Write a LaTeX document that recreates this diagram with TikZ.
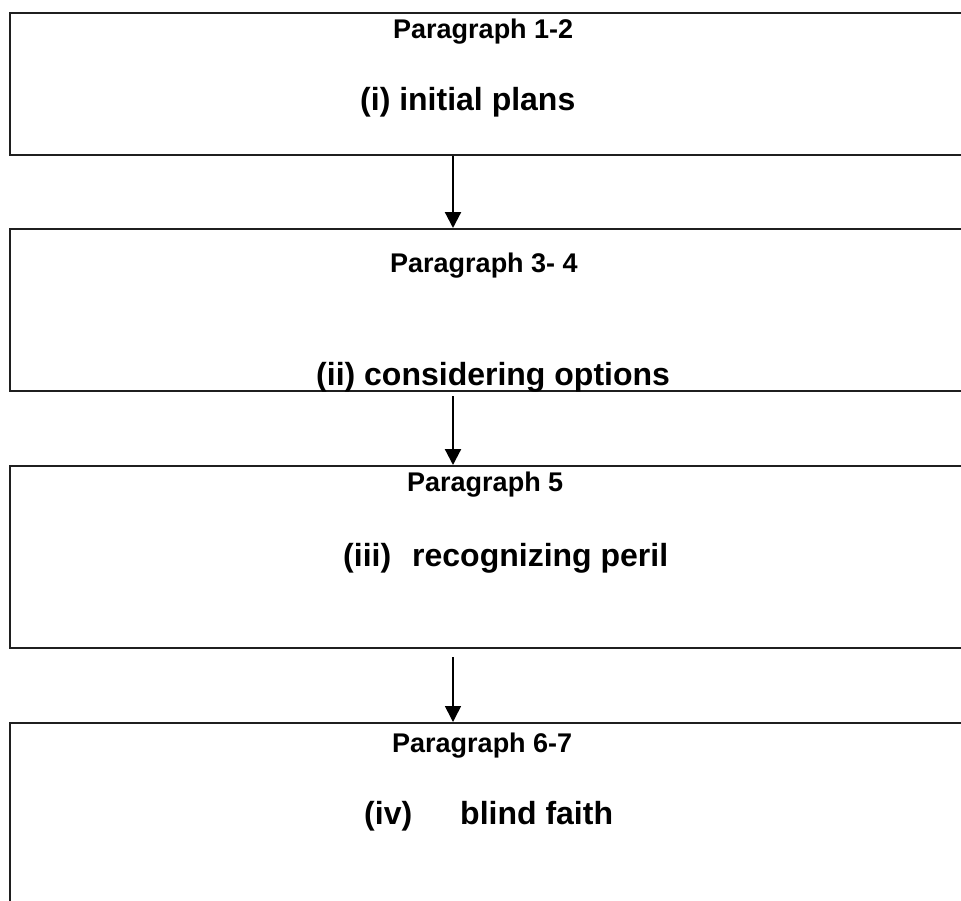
\documentclass[tikz,border=0pt]{standalone}
\usepackage{fontspec}
\setmainfont{Liberation Sans}
\usetikzlibrary{arrows.meta}
\begin{document}
\begin{tikzpicture}[x=1pt,y=-1pt,
  box/.style={draw=black!88,line width=2pt,rectangle,inner sep=0pt},
  head/.style={anchor=base west,inner sep=0pt,font=\fontsize{27}{32}\selectfont\bfseries},
  lab/.style={anchor=base west,inner sep=0pt,font=\fontsize{32}{38}\selectfont\bfseries},
  arr/.style={line width=2.2pt,-{Triangle[length=16pt,width=16pt]}}]
\useasboundingbox (0,0) rectangle (961,900);
\clip (0,0) rectangle (961,900);
\fill[white] (0,0) rectangle (961,900);
% boxes
\node[box,minimum width=980pt,minimum height=142pt,anchor=north west] (b1) at (9,12) {};
\node[box,minimum width=980pt,minimum height=162pt,anchor=north west] (b2) at (9,228) {};
\node[box,minimum width=980pt,minimum height=182pt,anchor=north west] (b3) at (9,465) {};
\node[box,minimum width=980pt,minimum height=200pt,anchor=north west] (b4) at (9,722) {};
% texts
\node[head] (t1a) at (393,38) {Paragraph 1-2};
\node[lab] (t1b) at (360,110) {(i) initial plans};
\node[head] (t2a) at (390,272) {Paragraph 3- 4};
\node[lab] (t2b) at (316,385) {(ii) considering options};
\node[head] (t3a) at (407,491) {Paragraph 5};
\node[lab] (t3b) at (343,566) {(iii)};
\node[lab] (t3c) at (412,566) {recognizing peril};
\node[head] (t4a) at (392,752) {Paragraph 6-7};
\node[lab] (t4b) at (364,824) {(iv)};
\node[lab] (t4c) at (460,824) {blind faith};
% arrows
\coordinate (ax) at (453,0);
\draw[arr] (b1.south -| ax) -- (b2.north -| ax);
\draw[arr,shorten <=4pt] (b2.south -| ax) -- (b3.north -| ax);
\draw[arr,line width=1.6pt,shorten <=8pt] (b3.south -| ax) -- (b4.north -| ax);
\end{tikzpicture}
\end{document}
